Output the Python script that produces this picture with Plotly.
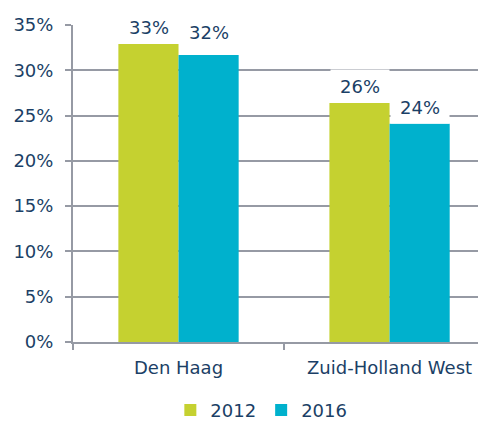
import plotly.graph_objects as go

# data
regions = ["Den Haag", "Zuid-Holland West"]
share_2012 = [32.9, 26.4]
share_2016 = [31.7, 24.1]
labels_2012 = ["33%", "26%"]
labels_2016 = ["32%", "24%"]
y_ticks = [0, 5, 10, 15, 20, 25, 30, 35]
y_tick_text = ["0%", "5%", "10%", "15%", "20%", "25%", "30%", "35%"]

GREEN = "#C5D130"
CYAN = "#00B1CD"
TEXT = "#1B3F66"
AXIS = "#969AA4"
FONT = "DejaVu Sans, Verdana, sans-serif"
FS = 18

fig = go.Figure()
fig.add_trace(go.Bar(x=regions, y=share_2012, name="2012", marker=dict(color=GREEN, line=dict(width=0))))
fig.add_trace(go.Bar(x=regions, y=share_2016, name="2016", marker=dict(color=CYAN, line=dict(width=0))))

# value labels with white boxes sitting on top of the bars
# (the 32% label sits a bit higher in the original)
for series, labels, shift, lifts in [(share_2012, labels_2012, -30, [0, 0]),
                                     (share_2016, labels_2016, 30, [6, 0])]:
    for reg, val, lab, lift in zip(regions, series, labels, lifts):
        fig.add_annotation(
            x=reg, y=val, text=lab, xshift=shift, yshift=lift,
            showarrow=False, yanchor="bottom",
            width=58, height=32, bgcolor="white", borderpad=0,
            font=dict(family=FONT, size=FS, color=TEXT),
        )

# page body adds an 8px margin, so the figure is 8px smaller than the window
fig.update_layout(
    width=478, height=413,
    margin=dict(l=65, r=0, t=17, b=79, autoexpand=False),
    paper_bgcolor="white", plot_bgcolor="white",
    barmode="group", bargap=0.43, bargroupgap=0,
    font=dict(family=FONT, size=FS, color=TEXT),
    showlegend=True,
    legend=dict(
        orientation="h", xref="container", yref="container",
        x=0.53, y=0.026, xanchor="center", yanchor="middle",
        font=dict(size=FS, color=TEXT), itemwidth=30, tracegroupgap=0,
    ),
)
fig.update_xaxes(
    range=[-0.5, 1.457], showline=True, linecolor=AXIS, linewidth=2,
    ticks="outside", tickson="boundaries", ticklen=6, tickcolor=AXIS, tickwidth=2,
    showgrid=False, ticklabelstandoff=8, automargin=False,
)
fig.update_yaxes(
    range=[0, 35], tickvals=y_ticks, ticktext=y_tick_text,
    showline=True, linecolor=AXIS, linewidth=2,
    ticks="outside", ticklen=6, tickcolor=AXIS, tickwidth=2,
    showgrid=True, gridcolor=AXIS, gridwidth=1.5, zeroline=False,
    ticklabelstandoff=8, automargin=False,
)

fig.write_html("out.html")
